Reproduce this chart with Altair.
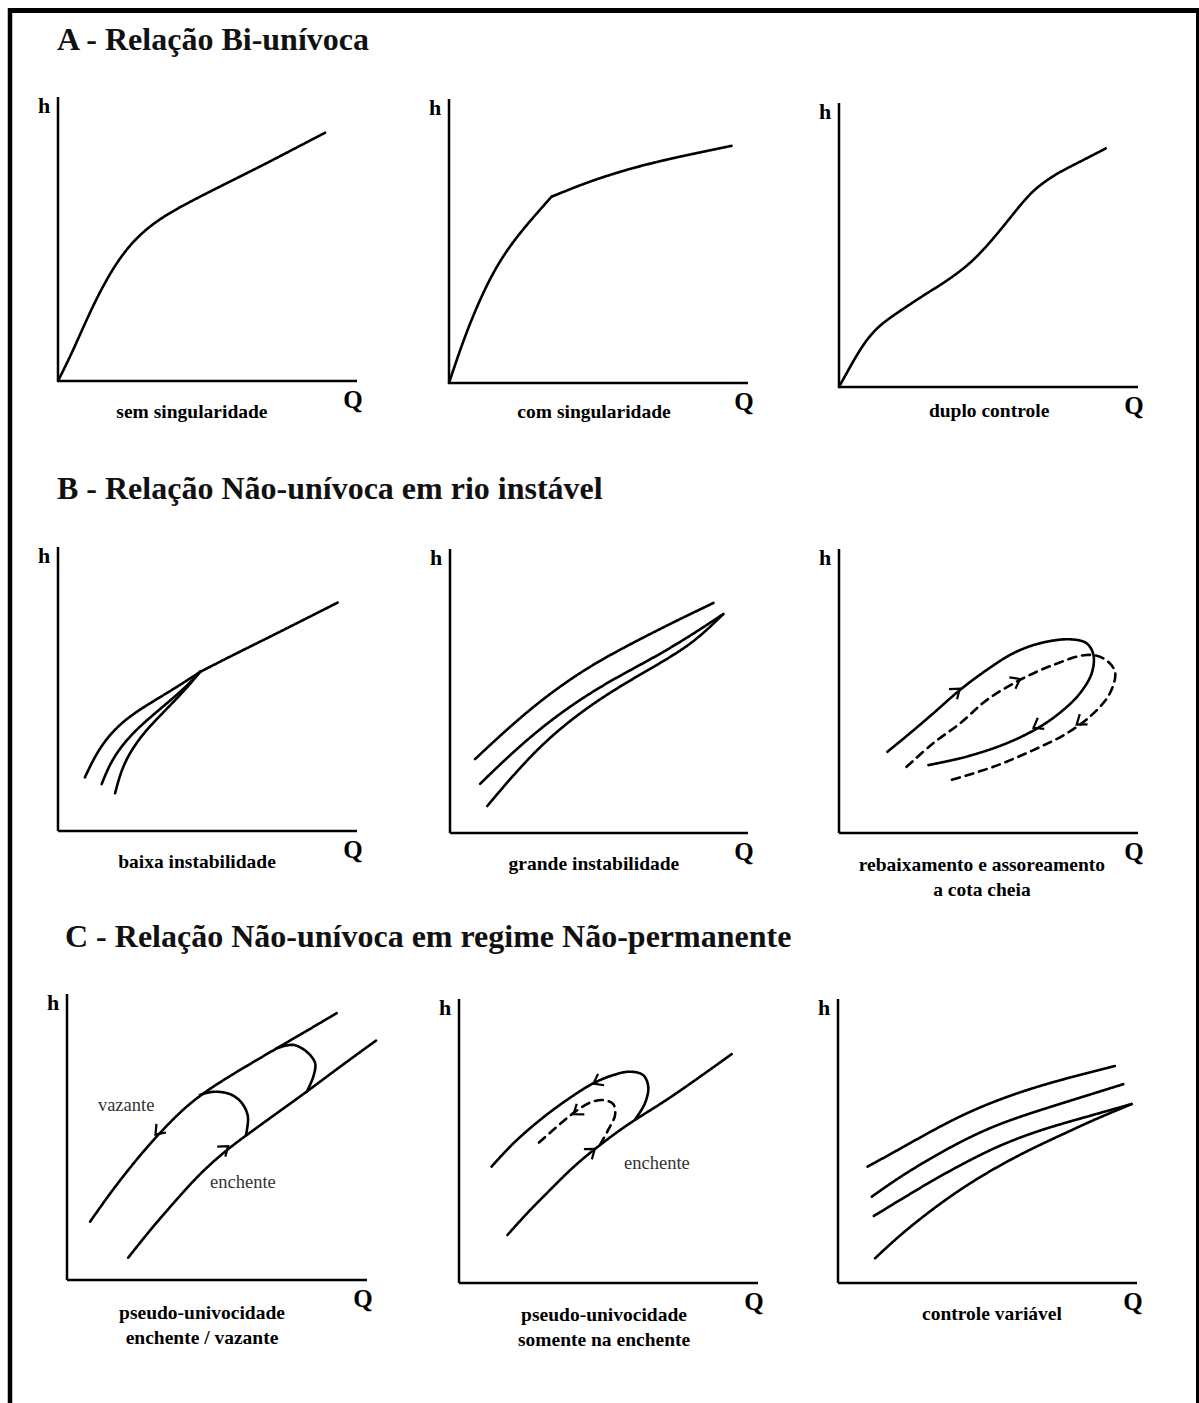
import altair as alt
import pandas as pd

# ---------------------------------------------------------------------------
# Curves of each schematic, in relative units: Q (discharge) and h (stage),
# both running from 0 at the origin to 100 at the end of each axis.
# ---------------------------------------------------------------------------

# A - sem singularidade
A1_Q = [0, 4.6, 9.0, 14.0, 19.6, 25.2, 30.8, 36.4, 43.0, 53.1, 60.9, 69.8, 78.7, 89.3]
A1_H = [0, 9.7, 20.3, 31.5, 41.8, 49.3, 54.6, 58.6, 62.5, 67.9, 72.0, 76.7, 81.6, 87.4]

# A - com singularidade (two branches meeting at the control break)
A2_LOW_Q = [0, 3.8, 8.1, 13.7, 19.3, 26.0, 34.3]
A2_LOW_H = [0, 12.0, 24.0, 37.0, 46.8, 55.8, 65.6]
A2_HIGH_Q = [34.3, 42.7, 50.5, 61.6, 72.8, 83.9, 94.5]
A2_HIGH_H = [65.6, 69.2, 72.2, 75.8, 78.7, 81.2, 83.5]

# A - duplo controle
A3_Q = [0, 3.7, 7.6, 11.5, 15.9, 22.6, 29.3, 34.9, 42.7, 48.3, 54.9, 62.8, 67.2, 72.8, 80.6, 89.2]
A3_H = [0, 7.1, 14.2, 19.6, 23.6, 28.3, 33.0, 36.5, 42.4, 48.2, 56.4, 67.0, 71.1, 75.2, 79.3, 84.0]

# B - baixa instabilidade (three low-stage branches joining one high-stage line)
B1_C1_Q = [9.0, 11.5, 14.5, 18.5, 23.5, 29.5, 36.5, 43.0, 47.5]
B1_C1_H = [18.9, 24.5, 30.0, 35.3, 40.0, 44.2, 48.6, 52.9, 56.0]
B1_C2_Q = [14.6, 16.5, 19.0, 22.5, 27.0, 32.5, 38.5, 43.5, 47.5]
B1_C2_H = [16.5, 21.5, 26.5, 31.5, 36.5, 41.5, 46.8, 51.5, 56.0]
B1_C3_Q = [19.1, 20.5, 22.5, 25.5, 29.5, 34.5, 39.5, 44.0, 47.5]
B1_C3_H = [13.3, 19.0, 24.5, 30.0, 35.5, 41.0, 46.4, 51.5, 56.0]
B1_MAIN_Q = [47.5, 58.6, 69.8, 80.9, 93.5]
B1_MAIN_H = [56.0, 62.0, 67.8, 73.7, 80.4]

# B - grande instabilidade
B2_C1_Q = [8.4, 16.8, 28.0, 39.2, 50.3, 63.8, 76.1, 88.4]
B2_C1_H = [26.0, 34.3, 44.6, 53.4, 60.8, 68.3, 74.8, 81.0]
B2_C2_Q = [10.1, 19.0, 30.2, 42.5, 54.8, 68.2, 80.5, 91.7]
B2_C2_H = [17.3, 26.4, 36.8, 46.3, 54.2, 61.6, 69.3, 77.1]
B2_C3_Q = [12.5, 20.1, 30.2, 41.4, 52.6, 63.8, 76.1, 84.0, 91.7]
B2_C3_H = [9.5, 19.0, 30.6, 40.6, 48.8, 55.8, 63.2, 69.2, 77.1]

# B - rebaixamento e assoreamento a cota cheia (solid and dashed hysteresis loops)
B3_SOLID_Q = [16.2, 23.7, 31.5, 40.5, 49.4, 58.3, 67.2, 77.3, 82.8, 85.1, 84.5, 80.6, 75.0, 67.2, 56.1, 42.7, 29.9]
B3_SOLID_H = [28.6, 35.1, 42.1, 50.4, 57.4, 63.3, 66.8, 68.2, 66.8, 62.7, 56.2, 49.2, 43.3, 37.4, 31.6, 26.9, 23.9]
B3_DASH_Q = [22.6, 31.5, 40.5, 49.4, 60.5, 71.7, 82.8, 88.4, 92.3, 90.6, 85.1, 76.2, 65.0, 51.6, 36.6]
B3_DASH_H = [23.3, 31.6, 38.6, 46.8, 53.9, 59.2, 62.7, 61.5, 56.8, 49.2, 42.1, 35.1, 29.2, 23.3, 18.4]
B3_ARROW_Q = [39.9, 60.0, 65.6, 80.0]
B3_ARROW_H = [50.4, 53.9, 37.4, 38.6]
B3_ARROW_ANGLE = [321, 332, 150, 143]

# C - pseudo-univocidade enchente / vazante
C1_UP_Q = [7.7, 14.3, 22.1, 28.8, 36.6, 44.3, 55.4, 69.9, 79.9, 89.9]
C1_UP_H = [20.4, 30.3, 40.8, 49.0, 57.7, 64.7, 72.1, 81.0, 87.1, 93.3]
C1_LOW_Q = [20.4, 27.7, 35.4, 44.3, 53.2, 59.9, 69.9, 79.9, 91.0, 103.0]
C1_LOW_H = [7.8, 17.5, 26.8, 37.3, 45.5, 50.7, 58.3, 65.8, 74.6, 83.7]
C1_LOOP1_Q = [59.6, 60.3, 58.2, 54.3, 48.8, 44.3]
C1_LOOP1_H = [50.5, 57.1, 62.0, 65.0, 65.8, 64.7]
C1_LOOP2_Q = [79.9, 82.1, 82.7, 79.9, 75.4, 69.9]
C1_LOOP2_H = [65.8, 71.1, 75.8, 79.8, 82.2, 81.0]
C1_ARROW_Q = [53.2, 29.9]
C1_ARROW_H = [46.4, 51.3]
C1_ARROW_ANGLE = [321, 132]

# C - pseudo-univocidade somente na enchente
C2_MAIN_Q = [16.2, 22.6, 30.4, 38.2, 46.1, 53.8, 60.5, 69.5, 80.6, 91.2]
C2_MAIN_H = [16.9, 24.5, 32.7, 41.0, 47.8, 53.9, 58.6, 64.4, 72.6, 80.6]
C2_UP_Q = [10.9, 18.2, 27.1, 36.0, 44.9, 51.6, 57.2, 61.6, 63.3, 62.2, 58.9]
C2_UP_H = [41.0, 49.2, 57.4, 64.4, 70.3, 73.2, 74.4, 73.2, 69.1, 63.3, 57.6]
C2_DASH_Q = [47.2, 49.9, 52.2, 51.6, 48.3, 43.8, 38.2, 32.7, 26.5]
C2_DASH_H = [48.7, 53.9, 59.2, 63.0, 64.4, 63.5, 59.8, 55.0, 49.2]
C2_ARROW_Q = [45.5, 38.8, 44.9]
C2_ARROW_H = [70.5, 59.8, 46.8]
C2_ARROW_ANGLE = [152, 144, 322]

# C - controle variável
C3_C1_Q = [9.9, 18.5, 29.7, 40.8, 52.0, 65.3, 78.7, 92.6]
C3_C1_H = [41.0, 45.9, 52.6, 58.8, 63.9, 68.8, 72.7, 76.4]
C3_C2_Q = [11.3, 20.7, 31.9, 43.0, 54.2, 67.6, 82.0, 95.4]
C3_C2_H = [30.4, 37.4, 44.5, 50.9, 56.2, 60.9, 65.6, 70.0]
C3_C3_Q = [12.0, 20.7, 31.9, 43.0, 54.2, 67.6, 82.0, 98.2]
C3_C3_H = [23.6, 29.2, 36.3, 42.7, 48.6, 53.9, 58.2, 63.0]
C3_C4_Q = [12.4, 20.7, 31.9, 43.0, 54.2, 65.3, 76.5, 85.4, 98.2]
C3_C4_H = [8.7, 16.9, 26.3, 34.5, 41.5, 47.6, 53.0, 57.4, 63.0]

# ---------------------------------------------------------------------------
# Texts
# ---------------------------------------------------------------------------
SECTION_TITLES = [
    "A - Relação Bi-unívoca",
    "B - Relação Não-unívoca em rio instável",
    "C - Relação Não-unívoca em regime Não-permanente",
]
CAPTIONS = [
    ["sem singularidade"],
    ["com singularidade"],
    ["duplo controle"],
    ["baixa instabilidade"],
    ["grande instabilidade"],
    ["rebaixamento e assoreamento", "a cota cheia"],
    ["pseudo-univocidade", "enchente / vazante"],
    ["pseudo-univocidade", "somente na enchente"],
    ["controle variável"],
]
NOTE_TEXTS = {6: ["vazante", "enchente"], 7: ["enchente"]}
NOTE_Q = {6: [10.3, 47.7], 7: [55.2]}
NOTE_H = {6: [59.0, 32.0], 7: [40.2]}

# ---------------------------------------------------------------------------
# Layout and style
# ---------------------------------------------------------------------------
W, H = 1199, 1403
SERIF = "Liberation Serif"
INK = "#000000"
LINE_W = 2.6
CHEVRON = "M -0.9 -0.85 L 0.25 0 L -0.9 0.85"

# pixel box of every diagram: (x of origin, x of axis end, y of origin, y of axis top)
BOXES = [
    (58, 357, 381, 97), (449, 748, 383, 99), (839, 1138, 387, 103),
    (58, 357, 831, 547), (450, 748, 833, 549), (839, 1138, 833, 549),
    (67, 367, 1280, 994), (459, 758, 1283, 999), (838, 1137, 1283, 999),
]
CAPTION_Q = [44.8, 48.5, 50.2, 46.5, 48.3, 47.8, 45.0, 48.5, 51.5]
CAPTION_DY = [37, 35, 30, 37, 37, 38, 39, 38, 37]
TITLE_POS = [(57, 50), (57, 499), (65, 947)]

# (name, line style, shape kind, Q values, h values); "fn" curves are smoothed
# with a B-spline, "loop" curves pass through every point
CURVES = [
    [("c", "solid", "fn", A1_Q, A1_H)],
    [("low", "solid", "fn", A2_LOW_Q, A2_LOW_H), ("high", "solid", "fn", A2_HIGH_Q, A2_HIGH_H)],
    [("c", "solid", "fn", A3_Q, A3_H)],
    [("c1", "solid", "fn", B1_C1_Q, B1_C1_H), ("c2", "solid", "fn", B1_C2_Q, B1_C2_H),
     ("c3", "solid", "fn", B1_C3_Q, B1_C3_H), ("main", "solid", "fn", B1_MAIN_Q, B1_MAIN_H)],
    [("c1", "solid", "fn", B2_C1_Q, B2_C1_H), ("c2", "solid", "fn", B2_C2_Q, B2_C2_H),
     ("c3", "solid", "fn", B2_C3_Q, B2_C3_H)],
    [("loop", "solid", "loop", B3_SOLID_Q, B3_SOLID_H),
     ("loop2", "dashed", "loop", B3_DASH_Q, B3_DASH_H)],
    [("up", "solid", "fn", C1_UP_Q, C1_UP_H), ("low", "solid", "fn", C1_LOW_Q, C1_LOW_H),
     ("l1", "solid", "loop", C1_LOOP1_Q, C1_LOOP1_H), ("l2", "solid", "loop", C1_LOOP2_Q, C1_LOOP2_H)],
    [("main", "solid", "fn", C2_MAIN_Q, C2_MAIN_H), ("up", "solid", "loop", C2_UP_Q, C2_UP_H),
     ("dash", "dashed", "loop", C2_DASH_Q, C2_DASH_H)],
    [("c1", "solid", "fn", C3_C1_Q, C3_C1_H), ("c2", "solid", "fn", C3_C2_Q, C3_C2_H),
     ("c3", "solid", "fn", C3_C3_Q, C3_C3_H), ("c4", "solid", "fn", C3_C4_Q, C3_C4_H)],
]
ARROWS = {
    5: (B3_ARROW_Q, B3_ARROW_H, B3_ARROW_ANGLE),
    6: (C1_ARROW_Q, C1_ARROW_H, C1_ARROW_ANGLE),
    7: (C2_ARROW_Q, C2_ARROW_H, C2_ARROW_ANGLE),
}

ONE_ROW = pd.DataFrame({"n": [0]})
DASHES = alt.Scale(domain=["solid", "dashed"], range=[[1, 0], [8, 6]])


def curve_table(curves, kind):
    rows = []
    for name, style, k, qs, hs in curves:
        if k != kind:
            continue
        for i, (q, h) in enumerate(zip(qs, hs)):
            rows.append({"curve": name, "style": style, "i": i, "Q": q, "h": h})
    return pd.DataFrame(rows)


def diagram(k):
    x0, x1, yb, yt = BOXES[k]
    xs = alt.Scale(domain=[0, 100], range=[x0, x1], nice=False, zero=False)
    ys = alt.Scale(domain=[0, 100], range=[yb, yt], nice=False, zero=False)

    def xd(v):
        return alt.XDatum(v, type="quantitative", scale=xs, axis=None)

    def yd(v):
        return alt.YDatum(v, type="quantitative", scale=ys, axis=None)

    layers = []
    # L-shaped axes
    layers.append(alt.Chart(ONE_ROW).mark_rule(color=INK, strokeWidth=2.5).encode(
        x=xd(0), x2=alt.X2Datum(100), y=yd(0)))
    layers.append(alt.Chart(ONE_ROW).mark_rule(color=INK, strokeWidth=2.5).encode(
        x=xd(0), y=yd(0), y2=alt.Y2Datum(100)))

    # rating curves
    for kind, interp in (("fn", "basis"), ("loop", "catmull-rom")):
        df = curve_table(CURVES[k], kind)
        if df.empty:
            continue
        layers.append(alt.Chart(df).mark_line(
            interpolate=interp, color=INK, strokeWidth=LINE_W, strokeCap="round"
        ).encode(
            x=alt.X("Q:Q", scale=xs, axis=None),
            y=alt.Y("h:Q", scale=ys, axis=None),
            detail="curve:N",
            order="i:Q",
            strokeDash=alt.StrokeDash("style:N", scale=DASHES, legend=None),
        ))

    # direction arrows along the loops
    if k in ARROWS:
        aq, ah, aa = ARROWS[k]
        adf = pd.DataFrame({"Q": aq, "h": ah, "angle": aa})
        layers.append(alt.Chart(adf).mark_point(
            shape=CHEVRON, filled=False, color=INK, strokeWidth=2.2, size=230, opacity=1
        ).encode(
            x=alt.X("Q:Q", scale=xs, axis=None),
            y=alt.Y("h:Q", scale=ys, axis=None),
            angle=alt.Angle("angle:Q", scale=None),
        ))

    # in-plot notes
    if k in NOTE_TEXTS:
        ndf = pd.DataFrame({"t": NOTE_TEXTS[k], "Q": NOTE_Q[k], "h": NOTE_H[k]})
        layers.append(alt.Chart(ndf).mark_text(
            font=SERIF, fontSize=18.5, color="#333333", align="left", baseline="alphabetic"
        ).encode(
            x=alt.X("Q:Q", scale=xs, axis=None),
            y=alt.Y("h:Q", scale=ys, axis=None),
            text="t:N",
        ))

    # axis letters
    layers.append(alt.Chart(ONE_ROW).mark_text(
        font=SERIF, fontSize=22, fontWeight="bold", color=INK, dx=-14, dy=16,
        align="center", baseline="alphabetic"
    ).encode(x=xd(0), y=yd(100), text=alt.value("h")))
    layers.append(alt.Chart(ONE_ROW).mark_text(
        font=SERIF, fontSize=25, fontWeight="bold", color=INK, dx=-4, dy=27,
        align="center", baseline="alphabetic"
    ).encode(x=xd(100), y=yd(0), text=alt.value("Q")))

    # caption under the diagram
    cap = CAPTIONS[k]
    layers.append(alt.Chart(ONE_ROW).mark_text(
        font=SERIF, fontSize=19.5, fontWeight="bold", color=INK, dy=CAPTION_DY[k],
        align="center", baseline="alphabetic", lineHeight=25
    ).encode(x=xd(CAPTION_Q[k]), y=yd(0), text=alt.value(cap if len(cap) > 1 else cap[0])))

    return alt.layer(*layers)


# page frame
frame = [
    alt.Chart(ONE_ROW).mark_rule(color=INK, strokeWidth=5).encode(
        x=alt.value(8), x2=alt.value(W), y=alt.value(10.5)),
    alt.Chart(ONE_ROW).mark_rule(color=INK, strokeWidth=4.5).encode(
        x=alt.value(10), y=alt.value(8), y2=alt.value(H)),
    alt.Chart(ONE_ROW).mark_rule(color=INK, strokeWidth=3).encode(
        x=alt.value(1197.5), y=alt.value(8), y2=alt.value(H)),
]

# section headings
headings = [
    alt.Chart(ONE_ROW).mark_text(
        font=SERIF, fontSize=32, fontWeight="bold", color="#111111",
        align="left", baseline="alphabetic"
    ).encode(x=alt.value(px), y=alt.value(py), text=alt.value(t))
    for t, (px, py) in zip(SECTION_TITLES, TITLE_POS)
]

panels = [diagram(k) for k in range(9)]

chart = alt.layer(*frame, *headings, *panels).resolve_scale(
    x="independent", y="independent"
).properties(
    width=W, height=H, padding=0, background="white",
    autosize=alt.AutoSizeParams(type="none"),
).configure_view(stroke=None)

chart.save("out.html", embed_options={"renderer": "svg", "actions": False})
